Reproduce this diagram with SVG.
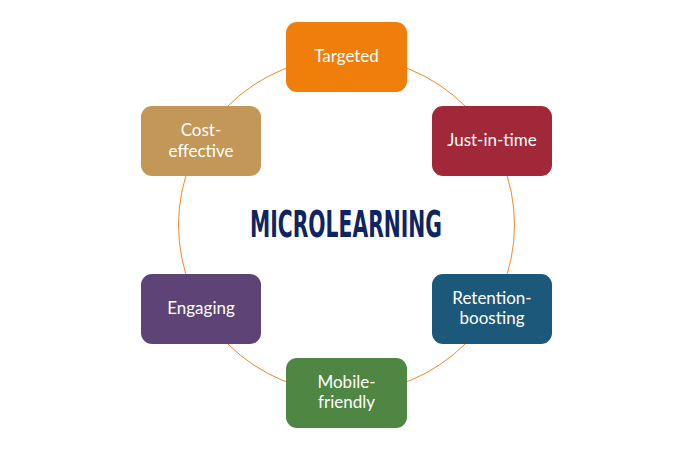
<svg xmlns="http://www.w3.org/2000/svg" width="694" height="451" viewBox="0 0 694 451">
<style>
.box{stroke:none}
.lbl{font-family:Lato,"Open Sans","Liberation Sans",sans-serif;font-size:17px;fill:#ffffff;text-anchor:middle}
.ring{fill:none;stroke:#F0892A;stroke-width:1}
.title{font-family:"DejaVu Sans Condensed","DejaVu Sans",sans-serif;font-weight:bold;font-size:38px;fill:#0F2460}
</style>
<rect width="694" height="451" fill="#ffffff"/>
<g id="connectors">
<circle class="ring" cx="346.5" cy="225" r="168"/>
</g>
<g id="title">
<text class="title" x="250" y="237" textLength="192" lengthAdjust="spacingAndGlyphs">MICROLEARNING</text>
</g>
<g id="targeted">
<rect class="box" x="286" y="22" width="121" height="70" rx="11" fill="#EF7E0B"/>
<text class="lbl" x="346.5" y="62">Targeted</text>
</g>
<g id="just-in-time">
<rect class="box" x="432" y="106" width="120" height="70" rx="11" fill="#A02838"/>
<text class="lbl" x="492" y="146">Just-in-time</text>
</g>
<g id="retention-boosting">
<rect class="box" x="432" y="274" width="120" height="70" rx="11" fill="#1B5879"/>
<text class="lbl" x="492" y="304">Retention-</text>
<text class="lbl" x="492" y="324">boosting</text>
</g>
<g id="mobile-friendly">
<rect class="box" x="286" y="358" width="121" height="70" rx="11" fill="#4F8643"/>
<text class="lbl" x="346.5" y="388">Mobile-</text>
<text class="lbl" x="346.5" y="408">friendly</text>
</g>
<g id="engaging">
<rect class="box" x="141" y="274" width="120" height="70" rx="11" fill="#5E4476"/>
<text class="lbl" x="201" y="314">Engaging</text>
</g>
<g id="cost-effective">
<rect class="box" x="141" y="106" width="120" height="70" rx="11" fill="#C29757"/>
<text class="lbl" x="201" y="136">Cost-</text>
<text class="lbl" x="201" y="157">effective</text>
</g>
</svg>
